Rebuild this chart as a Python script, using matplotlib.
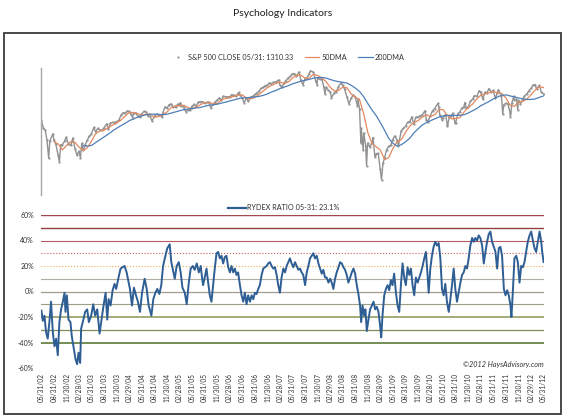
import matplotlib
matplotlib.use('Agg')
import matplotlib.pyplot as plt
from matplotlib.lines import Line2D
from matplotlib.patches import Rectangle
import matplotlib.ticker as mticker
import pandas as pd

plt.rcParams['font.family'] = ['Lato', 'DejaVu Sans']

START = '2002-05-31'
END = '2012-05-31'

# ---------------- S&P 500 close ----------------
spx_dates = [
    '2002-05-31', '2002-06-14', '2002-06-28', '2002-07-10', '2002-07-23', '2002-07-31', '2002-08-22', '2002-08-30',
    '2002-09-13', '2002-09-30', '2002-10-09', '2002-10-18', '2002-10-31', '2002-11-15', '2002-11-27', '2002-12-13',
    '2002-12-31', '2003-01-14', '2003-01-31', '2003-02-13', '2003-02-28', '2003-03-11', '2003-03-21', '2003-03-31',
    '2003-04-15', '2003-04-30', '2003-05-15', '2003-05-30', '2003-06-17', '2003-06-30', '2003-07-14', '2003-07-31',
    '2003-08-15', '2003-08-29', '2003-09-18', '2003-09-30', '2003-10-15', '2003-10-31', '2003-11-14', '2003-11-28',
    '2003-12-15', '2003-12-31', '2004-01-15', '2004-01-30', '2004-02-13', '2004-02-27', '2004-03-12', '2004-03-24',
    '2004-03-31', '2004-04-15', '2004-04-30', '2004-05-14', '2004-05-28', '2004-06-15', '2004-06-30', '2004-07-15',
    '2004-07-30', '2004-08-12', '2004-08-31', '2004-09-15', '2004-09-30', '2004-10-15', '2004-10-25', '2004-10-29',
    '2004-11-15', '2004-11-30', '2004-12-15', '2004-12-31', '2005-01-14', '2005-01-31', '2005-02-15', '2005-02-28',
    '2005-03-07', '2005-03-15', '2005-03-31', '2005-04-15', '2005-04-29', '2005-05-13', '2005-05-31', '2005-06-15',
    '2005-06-30', '2005-07-15', '2005-07-29', '2005-08-15', '2005-08-31', '2005-09-15', '2005-09-30', '2005-10-13',
    '2005-10-31', '2005-11-15', '2005-11-30', '2005-12-15', '2005-12-30', '2006-01-13', '2006-01-31', '2006-02-15',
    '2006-02-28', '2006-03-15', '2006-03-31', '2006-04-14', '2006-04-28', '2006-05-05', '2006-05-15', '2006-05-31',
    '2006-06-13', '2006-06-30', '2006-07-14', '2006-07-31', '2006-08-15', '2006-08-31', '2006-09-15', '2006-09-29',
    '2006-10-13', '2006-10-31', '2006-11-15', '2006-11-30', '2006-12-15', '2006-12-29', '2007-01-12', '2007-01-31',
    '2007-02-20', '2007-02-28', '2007-03-14', '2007-03-30', '2007-04-13', '2007-04-30', '2007-05-15', '2007-05-31',
    '2007-06-15', '2007-06-29', '2007-07-19', '2007-07-31', '2007-08-15', '2007-08-31', '2007-09-14', '2007-09-28',
    '2007-10-09', '2007-10-31', '2007-11-15', '2007-11-26', '2007-11-30', '2007-12-14', '2007-12-31', '2008-01-15',
    '2008-01-22', '2008-01-31', '2008-02-15', '2008-02-29', '2008-03-10', '2008-03-31', '2008-04-15', '2008-04-30',
    '2008-05-19', '2008-05-30', '2008-06-13', '2008-06-30', '2008-07-15', '2008-07-31', '2008-08-15', '2008-08-29',
    '2008-09-15', '2008-09-19', '2008-09-30', '2008-10-10', '2008-10-13', '2008-10-27', '2008-10-31', '2008-11-14',
    '2008-11-20', '2008-11-28', '2008-12-15', '2008-12-31', '2009-01-06', '2009-01-20', '2009-01-30', '2009-02-13',
    '2009-02-27', '2009-03-09', '2009-03-20', '2009-03-31', '2009-04-15', '2009-04-30', '2009-05-15', '2009-05-29',
    '2009-06-12', '2009-06-30', '2009-07-10', '2009-07-31', '2009-08-14', '2009-08-31', '2009-09-15', '2009-09-30',
    '2009-10-15', '2009-10-30', '2009-11-13', '2009-11-30', '2009-12-15', '2009-12-31', '2010-01-19', '2010-01-29',
    '2010-02-08', '2010-02-26', '2010-03-15', '2010-03-31', '2010-04-23', '2010-04-30', '2010-05-07', '2010-05-25',
    '2010-05-28', '2010-06-18', '2010-06-30', '2010-07-02', '2010-07-15', '2010-07-30', '2010-08-09', '2010-08-26',
    '2010-08-31', '2010-09-15', '2010-09-30', '2010-10-15', '2010-10-29', '2010-11-05', '2010-11-16', '2010-11-30',
    '2010-12-15', '2010-12-31', '2011-01-14', '2011-01-31', '2011-02-18', '2011-02-28', '2011-03-16', '2011-03-31',
    '2011-04-15', '2011-04-29', '2011-05-16', '2011-05-31', '2011-06-15', '2011-06-30', '2011-07-07', '2011-07-29',
    '2011-08-08', '2011-08-15', '2011-08-31', '2011-09-15', '2011-09-30', '2011-10-03', '2011-10-14', '2011-10-27',
    '2011-10-31', '2011-11-15', '2011-11-25', '2011-11-30', '2011-12-15', '2011-12-30', '2012-01-13', '2012-01-31',
    '2012-02-15', '2012-02-29', '2012-03-15', '2012-03-30', '2012-04-10', '2012-04-30', '2012-05-15', '2012-05-31',
]
spx_close = [
    1067, 1007, 990, 920, 797, 912, 962, 916,
    889, 815, 776, 884, 885, 910, 938, 890,
    880, 931, 856, 817, 841, 800, 895, 848,
    885, 917, 946, 964, 1011, 975, 1004, 990,
    990, 1008, 1040, 996, 1046, 1051, 1050, 1058,
    1068, 1112, 1133, 1131, 1146, 1145, 1120, 1091,
    1126, 1129, 1107, 1095, 1121, 1145, 1141, 1107,
    1102, 1064, 1104, 1121, 1115, 1109, 1095, 1130,
    1184, 1174, 1205, 1212, 1184, 1181, 1210, 1204,
    1225, 1197, 1181, 1142, 1157, 1154, 1192, 1207,
    1191, 1228, 1234, 1233, 1220, 1228, 1229, 1177,
    1207, 1232, 1249, 1270, 1248, 1287, 1280, 1280,
    1281, 1303, 1295, 1290, 1311, 1325, 1294, 1270,
    1223, 1270, 1236, 1277, 1285, 1304, 1320, 1336,
    1366, 1378, 1397, 1401, 1427, 1418, 1431, 1438,
    1459, 1407, 1377, 1421, 1452, 1482, 1501, 1531,
    1533, 1503, 1553, 1455, 1407, 1474, 1484, 1527,
    1565, 1549, 1451, 1407, 1481, 1467, 1468, 1380,
    1310, 1379, 1349, 1331, 1273, 1323, 1334, 1386,
    1426, 1400, 1360, 1280, 1214, 1267, 1298, 1283,
    1193, 1255, 1166, 899, 1003, 848, 969, 873,
    752, 896, 868, 903, 935, 805, 826, 827,
    735, 676, 768, 798, 852, 873, 882, 919,
    946, 919, 879, 987, 1004, 1021, 1052, 1057,
    1096, 1036, 1093, 1096, 1107, 1115, 1150, 1074,
    1057, 1104, 1150, 1169, 1217, 1187, 1111, 1074,
    1089, 1117, 1031, 1022, 1096, 1102, 1128, 1047,
    1049, 1125, 1141, 1176, 1183, 1225, 1178, 1181,
    1236, 1258, 1293, 1286, 1343, 1327, 1257, 1326,
    1320, 1364, 1329, 1345, 1266, 1321, 1353, 1292,
    1119, 1204, 1219, 1209, 1131, 1099, 1225, 1285,
    1253, 1257, 1159, 1247, 1216, 1258, 1289, 1312,
    1344, 1366, 1402, 1408, 1358, 1398, 1330, 1310,
]

# ---------------- 50 DMA (month ends, from Aug 2002) ----------------
dma50_start = '2002-08-31'
dma50 = [
    905, 890, 850, 880, 905,
    900, 870, 845, 865, 910, 965, 985, 990, 1010, 1030, 1048, 1070,
    1105, 1135, 1135, 1125, 1110, 1120, 1120, 1095, 1100, 1115, 1140, 1180,
    1195, 1195, 1200, 1180, 1165, 1185, 1205, 1225, 1225, 1215, 1215, 1250,
    1265, 1275, 1285, 1300, 1300, 1270, 1260, 1275, 1305, 1340, 1375, 1400,
    1420, 1435, 1420, 1435, 1480, 1510, 1515, 1480, 1480, 1525, 1510, 1480,
    1440, 1380, 1340, 1345, 1380, 1375, 1310, 1275, 1255, 1120, 970, 890,
    870, 850, 790, 800, 860, 905, 920, 975, 1020, 1050, 1065, 1095,
    1115, 1100, 1115, 1160, 1160, 1110, 1080, 1085, 1090, 1140, 1180, 1210,
    1260, 1295, 1310, 1320, 1335, 1320, 1315, 1270, 1200, 1190, 1225, 1235,
    1260, 1300, 1350, 1385, 1375,
]

# ---------------- 200 DMA (month ends, from Mar 2003) ----------------
dma200_start = '2003-03-31'
dma200 = [
    880, 875, 880, 900, 920, 940, 960, 985, 1005, 1025,
    1045, 1065, 1080, 1095, 1105, 1115, 1120, 1120, 1118, 1115, 1120, 1130,
    1140, 1150, 1160, 1165, 1170, 1175, 1180, 1190, 1200, 1205, 1210, 1220,
    1230, 1240, 1250, 1262, 1270, 1272, 1275, 1280, 1285, 1295, 1310, 1330,
    1345, 1365, 1380, 1395, 1415, 1430, 1445, 1455, 1465, 1480, 1485, 1488,
    1480, 1465, 1450, 1440, 1432, 1425, 1400, 1370, 1335, 1280, 1215, 1155,
    1105, 1050, 990, 930, 895, 875, 885, 905, 930, 970, 1000, 1030,
    1050, 1065, 1080, 1095, 1105, 1110, 1110, 1110, 1110, 1115, 1130, 1150,
    1170, 1195, 1215, 1235, 1260, 1280, 1295, 1300, 1290, 1280, 1270, 1260,
    1255, 1255, 1260, 1275, 1290,
]

# ---------------- Rydex ratio (days after 05/31/02, percent) ----------------
rydex_day = [
    0, 10, 22, 34, 46, 58, 70, 83, 95, 107, 119, 131, 143, 156, 168, 175, 185, 197, 211, 221,
    236, 248, 260, 270, 282, 289, 301, 318, 333, 345, 362, 377, 391, 406, 423, 435, 452, 467, 479, 489,
    503, 518, 532, 544, 561, 576, 591, 605, 620, 629, 644, 659, 673, 688, 702, 717, 732, 751, 766, 780,
    800, 814, 829, 843, 858, 872, 885, 902, 916, 933, 945, 960, 970, 984, 999, 1013, 1026, 1043, 1057, 1072,
    1086, 1101, 1115, 1130, 1145, 1159, 1164, 1176, 1188, 1201, 1213, 1225, 1237, 1249, 1261, 1274, 1286, 1298, 1310, 1322,
    1334, 1346, 1359, 1371, 1383, 1395, 1407, 1419, 1431, 1444, 1456, 1468, 1480, 1492, 1504, 1517, 1529, 1541, 1553, 1565,
    1577, 1589, 1602, 1614, 1626, 1638, 1650, 1662, 1675, 1687, 1699, 1711, 1723, 1735, 1747, 1760, 1772, 1784, 1796, 1808,
    1820, 1832, 1845, 1857, 1869, 1881, 1893, 1905, 1918, 1930, 1942, 1954, 1966, 1978, 1990, 2003, 2015, 2027, 2039, 2051,
    2063, 2075, 2088, 2100, 2112, 2124, 2136, 2148, 2161, 2173, 2185, 2197, 2209, 2221, 2233, 2246, 2258, 2270, 2282, 2294,
    2306, 2318, 2326, 2336, 2348, 2357, 2367, 2379, 2391, 2404, 2416, 2428, 2440, 2452, 2464, 2472, 2481, 2494, 2506, 2518,
    2530, 2542, 2554, 2566, 2579, 2591, 2603, 2615, 2627, 2639, 2651, 2664, 2676, 2688, 2700, 2712, 2724, 2737, 2749, 2761,
    2773, 2785, 2797, 2809, 2817, 2829, 2841, 2853, 2865, 2878, 2890, 2902, 2914, 2926, 2938, 2950, 2963, 2975, 2987, 2999,
    3011, 3023, 3035, 3048, 3060, 3072, 3084, 3096, 3108, 3120, 3133, 3145, 3157, 3169, 3181, 3193, 3206, 3218, 3230, 3242,
    3254, 3266, 3278, 3291, 3303, 3315, 3327, 3339, 3351, 3364, 3376, 3388, 3400, 3412, 3419, 3429, 3441, 3454, 3466, 3478,
    3490, 3502, 3514, 3526, 3538, 3551, 3563, 3575, 3587, 3599, 3611, 3624, 3636, 3643, 3653,
]
rydex_pct = [
    -15, -23, -19, -32, -37, -24, -8, -32, -43, -37, -50, -24, -14, -8, -1, -16, -3, -22, -24, -35,
    -45, -53, -57, -48, -56, -29, -24, -16, -14, -24, -19, -10, -19, -14, -33, -24, -11, -1, -22, -6,
    -11, 1, 6, 2, 11, 18, 19, 20, 15, 10, 2, -11, 3, -3, -8, -16, -1, 10, 2, -11,
    -19, -6, -1, 2, -2, 5, 20, 28, 34, 37, 23, 15, 10, 20, 23, 15, 3, -1, -10, 7,
    18, 20, 17, 22, 15, 20, 15, 5, 11, 18, 7, -3, -8, 5, 18, 30, 31, 26, 28, 22,
    27, 28, 19, 15, 20, 15, 18, 13, 15, 5, -3, -8, -1, -10, -3, -8, -3, -6, -1, -2,
    2, 5, 13, 18, 19, 20, 22, 23, 20, 18, 19, 13, 5, -1, 11, 18, 15, 20, 23, 26,
    22, 19, 23, 20, 17, 18, 15, 13, 5, 15, 20, 26, 28, 30, 26, 28, 22, 18, 14, 17,
    11, 11, 7, 10, 7, 2, 10, 15, 19, 23, 22, 19, 17, 13, 7, 11, 15, 18, 14, 5,
    -2, -11, -24, -11, -19, -14, -31, -22, -14, -11, -8, -14, -12, -16, -27, -36, -19, -3, 2, 5,
    1, 9, 5, 14, -1, -11, -16, 5, 22, 11, 5, 19, 13, 18, 5, -3, 11, 7, 11, 15,
    20, 26, 31, 13, -1, 18, 28, 35, 39, 36, 38, 26, 2, -3, 6, -8, -16, -6, 5, 18,
    2, -8, -1, 7, 13, 15, 20, 18, 26, 36, 42, 39, 42, 40, 44, 42, 36, 22, 31, 39,
    45, 47, 39, 35, 31, 18, 34, 35, 28, 2, -3, 1, -3, -11, -20, -1, 26, 28, 23, 7,
    20, 19, 23, 31, 39, 44, 47, 40, 34, 31, 39, 47, 39, 31, 23.1,
]

y_ticks = [-60, -40, -20, 0, 20, 40, 60]
ref_levels = [60, 50, 40, 30, 20, 10, 0, -10, -20, -30, -40]
ref_colors = ['#A04A4E', '#93433F', '#B35A5C', '#C8605E', '#E8B050', '#B4ADA4',
              '#A29C8E', '#9E9E84', '#8A9456', '#7F8A5A', '#4E6E26']
ref_styles = ['-', '-', '-', ':', ':', '-', '-', '-', '-', '-', '-']
ref_widths = [1.0, 1.0, 0.8, 0.8, 0.8, 0.8, 0.9, 0.8, 1.1, 0.9, 1.1]

# ---------------- figure ----------------
W, H = 567, 417
fig = plt.figure(figsize=(W / 100, H / 100), dpi=100)
fig.patch.set_facecolor('white')

def px_axes(x0, y0, x1, y1):
    return fig.add_axes([x0 / W, 1 - y1 / H, (x1 - x0) / W, (y1 - y0) / H])

start = pd.Timestamp(START)
end = pd.Timestamp(END)
xlim = (start - pd.Timedelta(days=3), end + pd.Timedelta(days=3))

# outer frame
fig.patches.append(Rectangle((4 / W, 3 / H), 557 / W, 381 / H, transform=fig.transFigure,
                             fill=False, edgecolor='#3A3A3A', linewidth=1.3))
fig.text(283 / W, 1 - 14 / H, 'Psychology Indicators', ha='center', va='center',
         fontsize=7.5, color='#202020')

# ---- top panel ----
ax1 = px_axes(41, 68, 544, 195)
spx_x = pd.to_datetime(spx_dates)
d50_x = pd.date_range(dma50_start, periods=len(dma50), freq=pd.offsets.MonthEnd())
d200_x = pd.date_range(dma200_start, periods=len(dma200), freq=pd.offsets.MonthEnd())
ax1.plot(spx_x, spx_close, color='#929292', lw=1.0, marker='.', ms=1.2, zorder=2)
ax1.plot(d50_x, dma50, color='#E3895F', lw=0.9, zorder=3)
ax1.plot(d200_x, dma200, color='#4F7FB8', lw=0.9, zorder=4)
ax1.set_yscale('log')
ax1.set_ylim(600, 1600)
ax1.set_xlim(*xlim)
for s in ['top', 'right', 'bottom']:
    ax1.spines[s].set_visible(False)
ax1.spines['left'].set_color('#A8A8A8')
ax1.spines['left'].set_linewidth(1.0)
ax1.set_xticks([])
ax1.set_yticks([])
ax1.yaxis.set_minor_locator(mticker.NullLocator())
ax1.set_facecolor('none')

h1 = [Line2D([], [], color='#929292', marker='.', ms=1.2, lw=0),
      Line2D([], [], color='#E3895F', lw=0.9),
      Line2D([], [], color='#4F7FB8', lw=0.9)]
fig.legend(h1, ['S&P 500 CLOSE 05/31: 1310.33', '50DMA', '200DMA'], loc='center',
           bbox_to_anchor=(288 / W, 1 - 57 / H), ncol=3, frameon=False, fontsize=5.2,
           handlelength=2.0, handletextpad=0.3, columnspacing=1.6, labelcolor='#303030')

# ---- bottom panel ----
ax2 = px_axes(41, 215, 544, 368)
for lvl, c, ls, lw in zip(ref_levels, ref_colors, ref_styles, ref_widths):
    ax2.axhline(lvl, color=c, ls=ls, lw=lw, zorder=1)
ry_x = start + pd.to_timedelta(rydex_day, unit='D')
ax2.plot(ry_x, rydex_pct, color='#2E5E94', lw=1.4, zorder=3)
ax2.set_ylim(-60, 60)
ax2.set_xlim(*xlim)
ax2.set_yticks(y_ticks)
ax2.yaxis.set_major_formatter(mticker.FuncFormatter(lambda v, p: f'{v:.0f}%'))
ticks = pd.date_range(START, END, freq=pd.offsets.MonthEnd(3))
ax2.set_xticks(ticks)
ax2.set_xticklabels([t.strftime('%m/%d/%y') for t in ticks], rotation=90)
ax2.tick_params(axis='x', length=0, pad=3.5, labelsize=4.7, labelcolor='#303030')
ax2.tick_params(axis='y', length=0, pad=5, labelsize=5.0, labelcolor='#303030')
for s in ax2.spines.values():
    s.set_visible(False)
ax2.set_facecolor('none')

h2 = [Line2D([], [], color='#2E5E94', lw=1.6)]
fig.legend(h2, ['RYDEX RATIO 05-31: 23.1%'], loc='center',
           bbox_to_anchor=(284 / W, 1 - 208 / H), frameon=False, fontsize=5.2,
           handlelength=2.4, handletextpad=0.2, labelcolor='#303030')

fig.text(544 / W, 1 - 364 / H, '\u00a92012 HaysAdvisory.com', ha='right', va='center',
         fontsize=5.2, style='italic', color='#303030')

fig.savefig('out.png', dpi=100, facecolor='white')
